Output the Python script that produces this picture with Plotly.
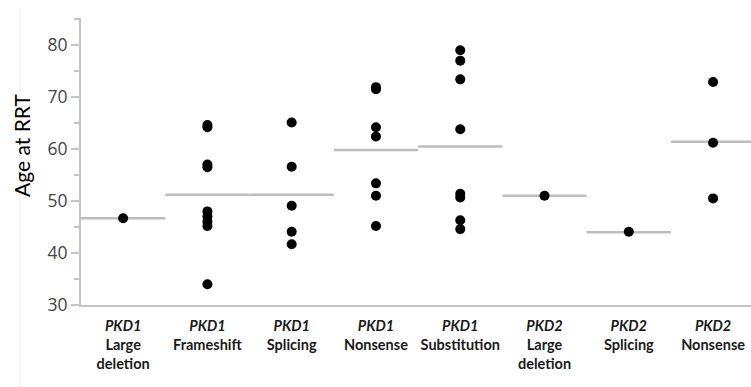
import plotly.graph_objects as go

categories = ["PKD1|Large|deletion", "PKD1|Frameshift", "PKD1|Splicing", "PKD1|Nonsense",
              "PKD1|Substitution", "PKD2|Large|deletion", "PKD2|Splicing", "PKD2|Nonsense"]

ages = [
    [46.7],
    [64.6, 64.2, 57.0, 56.5, 48.0, 47.0, 46.0, 45.2, 34.0],
    [65.1, 56.6, 49.1, 44.1, 41.7],
    [71.9, 71.5, 64.2, 62.4, 53.4, 51.0, 45.2],
    [79.0, 77.0, 73.4, 63.8, 51.4, 50.7, 46.3, 44.6],
    [51.0],
    [44.1],
    [72.9, 61.2, 50.5],
]

mean_lines = [46.7, 51.2, 51.2, 59.8, 60.5, 51.0, 44.0, 61.4]

def label(c):
    parts = c.split("|")
    out = "<b><i>" + parts[0] + "</i></b>"
    for p in parts[1:]:
        out += "<br><b>" + p + "</b>"
    return out

ticktext = [label(c) for c in categories]

fig = go.Figure()

lx, ly = [], []
for i, m in enumerate(mean_lines):
    lx += [i - 0.5, i + 0.5, None]
    ly += [m, m, None]
fig.add_trace(go.Scatter(x=lx, y=ly, mode="lines",
                         line=dict(color="#bdbdbd", width=2.5),
                         hoverinfo="skip", showlegend=False))

px_, py_ = [], []
for i, vals in enumerate(ages):
    for v in vals:
        px_.append(i)
        py_.append(v)
fig.add_trace(go.Scatter(x=px_, y=py_, mode="markers",
                         marker=dict(color="black", size=10),
                         showlegend=False))

L, T, PW, PH = 81, 18, 670, 287
fig.update_layout(
    width=751, height=387,
    margin=dict(l=L, r=751 - L - PW, t=T, b=387 - T - PH),
    paper_bgcolor="white", plot_bgcolor="white",
    font=dict(family="Open Sans, sans-serif"),
    xaxis=dict(range=[-0.5, 7.45], tickmode="array", tickvals=list(range(8)),
               ticktext=ticktext, showgrid=False, zeroline=False,
               showline=True, linecolor="#c4c4c4", linewidth=2,
               ticks="", ticklabelstandoff=7,
               tickfont=dict(family="Lato, sans-serif", size=14.5, color="#1a1a1a")),
    yaxis=dict(range=[30, 85.2], tickmode="array", tickvals=[30, 40, 50, 60, 70, 80],
               showgrid=False, zeroline=False,
               showline=True, linecolor="#c4c4c4", linewidth=2,
               ticks="outside", ticklen=8, tickcolor="#c4c4c4", tickwidth=1.5,
               minor=dict(tickvals=[35, 45, 55, 65, 75, 85], ticks="outside", ticklen=5,
                          tickcolor="#c4c4c4", tickwidth=1.5),
               tickfont=dict(family="Open Sans, sans-serif", size=17.5, color="#444444")),
)

fig.add_annotation(text="Age at RRT", xref="paper", yref="paper",
                   x=(21 - L) / PW, y=(T + PH - 146) / PH, xanchor="center", yanchor="middle",
                   textangle=-90, showarrow=False,
                   font=dict(family="Lato, sans-serif", size=21, color="black"))

fig.add_shape(type="line", xref="paper", yref="paper",
              x0=(20 - L) / PW, x1=(20 - L) / PW, y0=-(387 - T - PH) / PH, y1=1.0 + (T - 8) / PH,
              line=dict(color="#efefef", width=1))

fig.write_html("out.html", config={"displayModeBar": False},
               post_script="document.body.style.margin='0';")
